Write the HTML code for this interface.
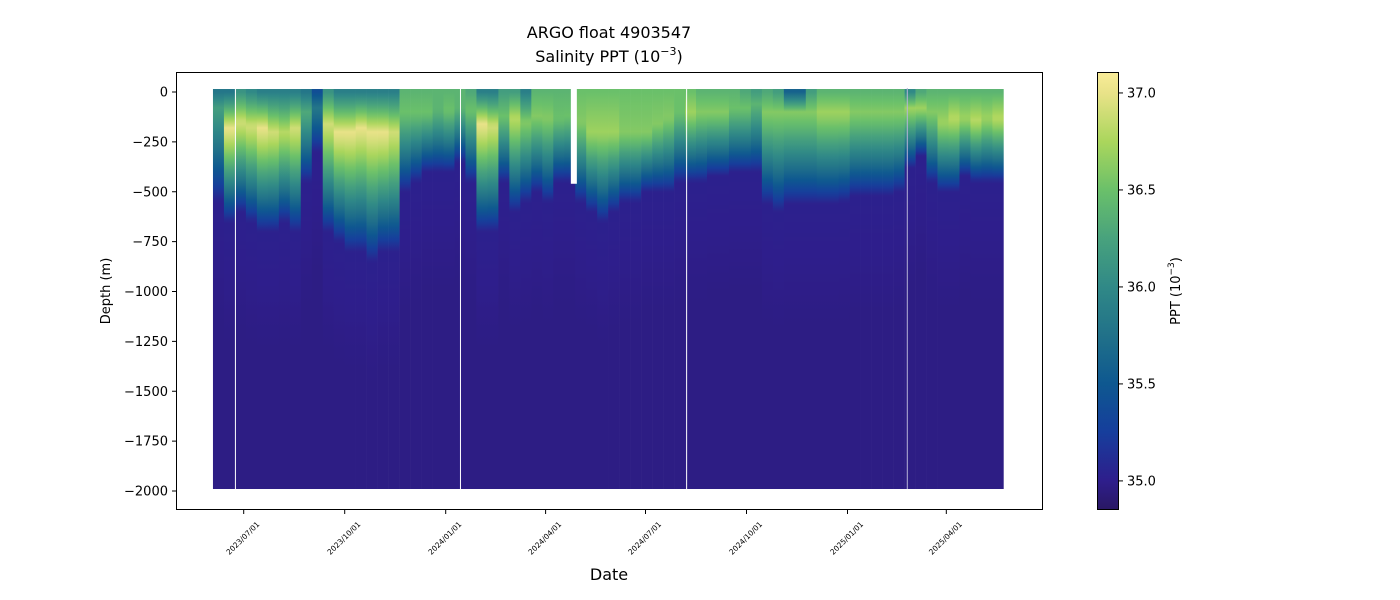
<!DOCTYPE html>
<html><head><meta charset="utf-8"><style>
html,body{margin:0;padding:0;background:#fff;}
svg{display:block;font-family:"DejaVu Sans","Liberation Sans",sans-serif;}
</style></head><body>
<svg id="chart" width="1400" height="600" viewBox="0 0 1400 600" xmlns="http://www.w3.org/2000/svg">
<defs id="defs"></defs>
<text x="609" y="38" font-size="16" text-anchor="middle">ARGO float 4903547</text>
<text x="609" y="62" font-size="16" text-anchor="middle">Salinity PPT (10<tspan font-size="11" dy="-7">−3</tspan><tspan dy="7">)</tspan></text>
<g id="plot"></g>
<rect x="176.5" y="72.5" width="866" height="437" fill="none" stroke="#000" stroke-width="1"/>
<g id="yaxis"></g>
<g id="xaxis"></g>
<text transform="translate(110,291) rotate(-90)" font-size="13" text-anchor="middle">Depth (m)</text>
<text x="609" y="580" font-size="16" text-anchor="middle">Date</text>
<g id="cbar"></g>
<text transform="translate(1180,291) rotate(-90)" font-size="13" text-anchor="middle">PPT (10<tspan font-size="9" dy="-6">−3</tspan><tspan dy="6">)</tspan></text>
</svg>
<script>
// ---- data ----
const startDate = "2023-06-03";
const stepDays = 10;
const surfSal = [35.8,35.8,36.1,36.0,35.9,35.9,35.9,35.9,35.8,35.4,36.1,35.9,35.9,35.9,35.9,35.9,35.9,36.4,36.4,36.4,36.4,36.4,36.4,36.3,35.9,35.9,36.2,36.2,35.9,36.4,36.4,36.4,36.4,36.5,36.5,36.5,36.5,36.5,36.5,36.5,36.5,36.5,36.5,36.5,36.4,36.4,36.4,36.4,36.3,36.2,36.3,36.2,35.6,35.6,36.2,36.4,36.4,36.4,36.4,36.4,36.4,36.4,36.4,36.0,36.3,36.4,36.4,36.4,36.4,36.4,36.4,36.4];
const maxSal = [36.2,37.0,36.9,36.9,37.0,36.9,36.8,36.9,36.3,35.8,36.9,37.0,37.0,37.0,37.0,37.0,36.9,36.5,36.5,36.5,36.4,36.5,36.4,36.5,37.0,36.9,36.5,36.8,36.6,36.6,36.6,36.5,36.5,36.6,36.7,36.7,36.7,36.6,36.6,36.6,36.6,36.6,36.5,36.7,36.6,36.6,36.6,36.5,36.5,36.4,36.6,36.6,36.6,36.6,36.6,36.7,36.7,36.7,36.6,36.6,36.6,36.6,36.6,36.7,36.7,36.6,36.7,36.8,36.7,36.8,36.7,36.8];
const maxDepth = [80,180,150,170,180,200,200,180,100,80,160,200,200,180,200,200,200,100,100,100,90,90,80,90,160,170,120,130,150,120,130,130,120,150,200,200,200,200,200,200,160,130,100,100,100,100,100,80,80,60,100,100,100,100,100,100,100,100,100,100,100,100,100,80,80,100,150,130,130,140,130,130];
const mixDepth = [550,650,600,650,700,700,650,700,450,300,700,750,800,800,850,800,800,500,450,400,400,400,350,450,700,700,450,600,550,500,550,450,450,550,600,650,600,550,550,500,500,500,450,450,450,420,420,400,400,400,560,600,560,560,560,560,560,550,520,520,520,520,500,380,320,450,500,500,420,450,450,450];
const deepSal = 34.97;
const gapDates = ["2023-06-23","2024-01-14","2024-04-24","2024-08-07","2025-02-24"];
const gapTopDepth = [0,0,460,0,0];
const gapColor = ["#fff","#fff","#fff","#fff","#b8b4d8"];
const yTicks = [0,-250,-500,-750,-1000,-1250,-1500,-1750,-2000];
const xTickDates = ["2023-07-01","2023-10-01","2024-01-01","2024-04-01","2024-07-01","2024-10-01","2025-01-01","2025-04-01"];
const xTickLabels = ["2023/07/01","2023/10/01","2024/01/01","2024/04/01","2024/07/01","2024/10/01","2025/01/01","2025/04/01"];
const cbTicks = [35.0,35.5,36.0,36.5,37.0];
// ---- scales ----
const NS="http://www.w3.org/2000/svg";
const dayMs=86400000, refDate=Date.UTC(2023,6,1);
function dnum(s){const p=s.split("-");return (Date.UTC(+p[0],+p[1]-1,+p[2])-refDate)/dayMs;}
const pxPerDay=101/92;
function xScale(days){return 243.7+days*pxPerDay;}
function yScale(depthM){return 92-depthM*0.1995;}
const vmin=34.85,vmax=37.108;
function cbY(v){return 510-(v-vmin)/(vmax-vmin)*438;}
const cmap=[[34.85,[42,24,100]],[35.0,[46,30,140]],[35.25,[22,62,156]],[35.5,[14,88,144]],[35.75,[33,113,137]],[36.0,[48,137,135]],[36.25,[72,162,125]],[36.5,[106,192,106]],[36.75,[170,214,92]],[37.0,[232,226,136]],[37.11,[250,236,152]]];
function color(v){
  if(v<=cmap[0][0])return "rgb("+cmap[0][1].join(",")+")";
  for(let i=1;i<cmap.length;i++){if(v<=cmap[i][0]){const a=cmap[i-1],b=cmap[i],t=(v-a[0])/(b[0]-a[0]);
    return "rgb("+[0,1,2].map(k=>Math.round(a[1][k]+(b[1][k]-a[1][k])*t)).join(",")+")";}}
  return "rgb("+cmap[cmap.length-1][1].join(",")+")";
}
function sal(i,d){
  const s0=surfSal[i],sm=maxSal[i],dm=maxDepth[i],d2=mixDepth[i];
  if(d<=dm)return s0+(sm-s0)*(d/dm);
  if(d<=d2){const t=(d-dm)/(d2-dm);return sm+(35.02-sm)*Math.pow(t,1.2);}
  return 35.02+(deepSal-35.02)*Math.min(1,(d-d2)/600);
}
const defsEl=document.getElementById("defs"),plotEl=document.getElementById("plot");
function mk(tag,attrs,parent){const e=document.createElementNS(NS,tag);for(const k in attrs)e.setAttribute(k,attrs[k]);parent.appendChild(e);return e;}
const d0=dnum(startDate), colW=stepDays*pxPerDay, topY=yScale(15), botY=yScale(-1990);
for(let i=0;i<surfSal.length;i++){
  const g=mk("linearGradient",{id:"g"+i,x1:0,y1:0,x2:0,y2:1},defsEl);
  for(let d=0;d<=2000;d+=(d<1000?20:100)){
    const off=(yScale(-d)-topY)/(botY-topY);
    mk("stop",{offset:Math.max(0,Math.min(1,off)),"stop-color":color(sal(i,d))},g);
  }
  const x=xScale(d0+i*stepDays);
  const r=mk("rect",{x:x.toFixed(2),y:topY,width:(colW+0.3).toFixed(2),height:botY-topY,fill:"url(#g"+i+")"},plotEl);
  
  
}
gapDates.forEach((gd,k)=>{
  const x=xScale(dnum(gd));
  const w=gapTopDepth[k]?6:1;
  const h=gapTopDepth[k]?(yScale(-gapTopDepth[k])-88):(botY-88);
  const r=mk("rect",{x:x.toFixed(2),y:88,width:w,height:h,fill:gapColor[k]},plotEl);
  
  
});
const ya=document.getElementById("yaxis");
yTicks.forEach(v=>{
  const y=yScale(v);
  const l=mk("line",{x1:172,x2:176,y1:y,y2:y,stroke:"#000"},ya);
  
  
  const t=mk("text",{x:168,y:y+4.5,"font-size":13,"text-anchor":"end"},ya);
  t.textContent=String(v).replace("-","−");
  
  
});
const xa=document.getElementById("xaxis");
xTickDates.forEach((d,k)=>{
  const x=xScale(dnum(d));
  const l=mk("line",{x1:x,x2:x,y1:510,y2:514,stroke:"#000"},xa);
  
  
  const t=mk("text",{transform:"translate("+(x+1)+",540) rotate(-45)","font-size":7.5,"text-anchor":"middle"},xa);
  t.textContent=xTickLabels[k];
  
  
});
const cb=document.getElementById("cbar");
const cg=mk("linearGradient",{id:"cbg",x1:0,y1:1,x2:0,y2:0},defsEl);
for(let v=vmin;v<=vmax+0.001;v+=0.05){mk("stop",{offset:(v-vmin)/(vmax-vmin),"stop-color":color(v)},cg);}
const cr=mk("rect",{x:1097.5,y:72.5,width:21,height:437,fill:"url(#cbg)",stroke:"#000","stroke-width":1},cb);


cbTicks.forEach(v=>{
  const y=cbY(v);
  const l=mk("line",{x1:1119,x2:1123,y1:y,y2:y,stroke:"#000"},cb);
  
  
  const t=mk("text",{x:1127,y:y+4.5,"font-size":13},cb);
  t.textContent=v.toFixed(1);
  
  
});
</script>
</body></html>
